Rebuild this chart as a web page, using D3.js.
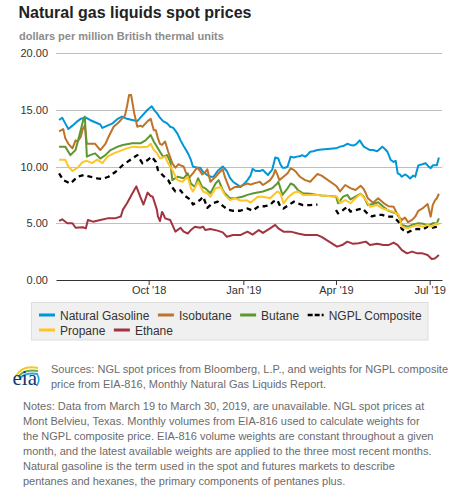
<!DOCTYPE html>
<html>
<head>
<meta charset="utf-8">
<script src="https://cdn.jsdelivr.net/npm/d3@7"></script>
<style>
  html, body { margin: 0; padding: 0; background: #fff; }
  svg { display: block; font-family: "Liberation Sans", Arial, sans-serif; }
</style>
</head>
<body>
<svg id="chart" width="469" height="494"></svg>
<script>
// ---------------- DATA ----------------
const titleText = "Natural gas liquids spot prices";
const unitsText = "dollars per million British thermal units";
const yTicks = [0, 5, 10, 15, 20];
const xTickDates = ["2018-10-01", "2019-01-01", "2019-04-01", "2019-07-01"];
const xTickLabels = ["Oct '18", "Jan '19", "Apr '19", "Jul '19"];
const seriesNames = ["Natural Gasoline", "Isobutane", "Butane", "NGPL Composite", "Propane", "Ethane"];

const naturalGasoline = [
 ["2018-07-06",14.1],["2018-07-09",14.3],["2018-07-12",13.8],["2018-07-15",13.3],["2018-07-19",13.6],
 ["2018-07-24",14.0],["2018-07-27",14.2],["2018-08-01",14.3],["2018-08-05",14.1],["2018-08-10",13.9],
 ["2018-08-15",13.7],["2018-08-17",13.4],["2018-08-22",13.6],["2018-08-27",13.8],["2018-09-01",14.2],
 ["2018-09-05",14.4],["2018-09-10",14.2],["2018-09-15",14.1],["2018-09-20",14.0],["2018-09-25",14.5],
 ["2018-09-30",15.0],["2018-10-04",15.3],["2018-10-07",14.9],["2018-10-09",14.7],["2018-10-12",14.3],
 ["2018-10-15",14.0],["2018-10-19",13.8],["2018-10-22",13.5],["2018-10-25",13.4],["2018-10-29",12.9],
 ["2018-11-01",12.3],["2018-11-04",11.8],["2018-11-08",11.2],["2018-11-11",10.6],["2018-11-13",10.0],
 ["2018-11-17",9.9],["2018-11-20",9.9],["2018-11-23",9.5],["2018-11-27",9.25],["2018-11-30",9.1],
 ["2018-12-03",9.1],["2018-12-07",9.6],["2018-12-12",10.0],["2018-12-14",9.8],["2018-12-16",9.6],
 ["2018-12-19",9.0],["2018-12-22",8.66],["2018-12-26",8.4],["2018-12-29",8.2],["2019-01-01",8.4],
 ["2019-01-05",8.8],["2019-01-08",9.2],["2019-01-10",9.8],["2019-01-13",9.6],["2019-01-17",9.6],
 ["2019-01-20",9.7],["2019-01-22",9.5],["2019-01-25",9.25],["2019-01-27",9.5],["2019-01-29",9.7],
 ["2019-02-01",10.8],["2019-02-04",10.7],["2019-02-06",10.2],["2019-02-08",9.9],["2019-02-11",9.9],
 ["2019-02-13",10.0],["2019-02-16",10.87],["2019-02-19",10.8],["2019-02-22",10.87],["2019-02-25",10.9],
 ["2019-02-27",11.0],["2019-03-02",10.87],["2019-03-04",11.0],["2019-03-07",11.3],["2019-03-10",11.35],
 ["2019-03-14",11.45],["2019-03-18",11.5],["2019-04-01",11.6],["2019-04-05",11.75],["2019-04-08",11.8],
 ["2019-04-12",12.0],["2019-04-15",11.9],["2019-04-18",11.85],["2019-04-21",12.0],["2019-04-24",12.3],
 ["2019-04-28",11.75],["2019-05-01",11.6],["2019-05-04",11.45],["2019-05-07",11.45],["2019-05-11",11.35],
 ["2019-05-16",11.75],["2019-05-19",11.5],["2019-05-21",11.3],["2019-05-24",10.6],["2019-05-27",10.4],
 ["2019-05-29",10.5],["2019-05-31",9.4],["2019-06-02",9.3],["2019-06-04",9.1],["2019-06-07",9.3],
 ["2019-06-09",9.2],["2019-06-12",8.95],["2019-06-15",9.2],["2019-06-17",9.1],["2019-06-20",10.1],
 ["2019-06-24",10.2],["2019-06-27",10.3],["2019-06-30",10.0],["2019-07-02",9.85],["2019-07-04",10.1],
 ["2019-07-06",10.1],["2019-07-08",10.1],["2019-07-10",10.8]
];

const isobutane = [
 ["2018-07-06",13.1],["2018-07-10",13.3],["2018-07-12",12.5],["2018-07-15",12.0],["2018-07-19",11.6],
 ["2018-07-22",12.3],["2018-07-24",12.2],["2018-07-27",12.6],["2018-07-29",13.3],["2018-07-31",13.6],
 ["2018-08-02",12.0],["2018-08-05",12.0],["2018-08-10",12.0],["2018-08-15",11.45],["2018-08-20",12.0],
 ["2018-08-23",12.6],["2018-08-28",13.5],["2018-09-02",13.9],["2018-09-05",14.2],["2018-09-08",14.5],
 ["2018-09-10",15.3],["2018-09-12",16.3],["2018-09-14",16.3],["2018-09-17",14.7],["2018-09-20",13.5],
 ["2018-09-23",13.6],["2018-09-25",13.5],["2018-09-28",13.8],["2018-09-30",14.0],["2018-10-03",14.2],
 ["2018-10-06",13.2],["2018-10-08",13.2],["2018-10-10",12.5],["2018-10-12",12.0],["2018-10-14",11.9],
 ["2018-10-17",12.2],["2018-10-20",11.3],["2018-10-22",10.8],["2018-10-24",10.28],["2018-10-27",9.9],
 ["2018-10-30",10.2],["2018-11-01",10.1],["2018-11-04",10.0],["2018-11-06",9.5],["2018-11-09",8.96],
 ["2018-11-11",9.2],["2018-11-13",9.4],["2018-11-17",9.9],["2018-11-20",9.6],["2018-11-22",9.3],
 ["2018-11-25",9.5],["2018-11-27",9.75],["2018-11-30",8.66],["2018-12-05",9.1],["2018-12-08",9.4],
 ["2018-12-12",9.75],["2018-12-14",9.1],["2018-12-17",8.4],["2018-12-19",7.93],["2018-12-22",8.1],
 ["2018-12-24",8.2],["2018-12-29",8.2],["2019-01-01",8.37],["2019-01-05",8.5],["2019-01-08",8.4],
 ["2019-01-11",8.5],["2019-01-15",8.6],["2019-01-17",8.66],["2019-01-20",8.37],["2019-01-24",8.6],
 ["2019-01-27",8.8],["2019-01-30",9.2],["2019-02-01",9.7],["2019-02-03",9.3],["2019-02-05",8.8],
 ["2019-02-09",9.1],["2019-02-13",9.4],["2019-02-16",9.84],["2019-02-19",9.7],["2019-02-21",9.54],
 ["2019-02-23",9.3],["2019-02-25",9.1],["2019-03-02",8.8],["2019-03-07",8.66],["2019-03-10",8.95],
 ["2019-03-14",9.34],["2019-03-18",9.2],["2019-04-01",8.3],["2019-04-02",8.2],["2019-04-05",7.8],
 ["2019-04-10",8.37],["2019-04-15",8.1],["2019-04-20",7.93],["2019-04-25",8.3],["2019-04-28",8.0],
 ["2019-04-30",7.64],["2019-05-02",7.2],["2019-05-04",7.05],["2019-05-07",6.8],["2019-05-12",7.2],
 ["2019-05-17",6.8],["2019-05-22",6.5],["2019-05-27",6.46],["2019-05-31",5.7],["2019-06-02",5.5],
 ["2019-06-04",5.3],["2019-06-07",5.5],["2019-06-10",5.1],["2019-06-14",5.3],["2019-06-17",5.58],
 ["2019-06-20",6.1],["2019-06-24",6.3],["2019-06-29",6.7],["2019-07-02",5.58],["2019-07-04",6.6],
 ["2019-07-06",7.0],["2019-07-08",7.2],["2019-07-10",7.6]
];

const butane = [
 ["2018-07-06",11.75],["2018-07-12",11.75],["2018-07-17",11.0],["2018-07-22",11.45],["2018-07-27",13.2],
 ["2018-07-30",14.3],["2018-07-31",14.4],["2018-08-02",10.87],["2018-08-05",11.0],["2018-08-10",11.16],
 ["2018-08-15",10.7],["2018-08-20",11.0],["2018-08-25",11.45],["2018-09-01",11.75],["2018-09-06",11.9],
 ["2018-09-15",12.04],["2018-09-23",12.04],["2018-09-28",12.3],["2018-10-03",12.77],["2018-10-06",12.2],
 ["2018-10-09",11.75],["2018-10-12",11.3],["2018-10-15",10.87],["2018-10-19",11.0],["2018-10-22",10.4],
 ["2018-10-24",8.8],["2018-10-29",9.1],["2018-11-04",8.96],["2018-11-08",9.4],["2018-11-11",8.5],
 ["2018-11-15",8.2],["2018-11-18",8.96],["2018-11-22",8.2],["2018-11-25",8.08],["2018-11-30",7.64],
 ["2018-12-05",8.5],["2018-12-08",8.8],["2018-12-12",7.93],["2018-12-14",7.64],["2018-12-19",7.2],
 ["2018-12-24",7.2],["2018-12-31",7.34],["2019-01-05",7.5],["2019-01-11",7.64],["2019-01-20",7.8],
 ["2019-01-29",8.08],["2019-02-03",8.5],["2019-02-04",8.66],["2019-02-08",7.5],["2019-02-13",8.08],
 ["2019-02-16",8.5],["2019-02-19",8.37],["2019-02-23",7.93],["2019-02-28",7.64],["2019-03-07",7.6],
 ["2019-03-14",7.5],["2019-03-18",7.45],["2019-04-01",7.35],["2019-04-03",6.76],["2019-04-08",7.34],
 ["2019-04-12",7.5],["2019-04-15",7.1],["2019-04-20",7.34],["2019-04-25",7.6],["2019-04-28",7.34],
 ["2019-05-02",6.6],["2019-05-07",6.7],["2019-05-12",6.85],["2019-05-17",6.46],["2019-05-22",6.1],
 ["2019-05-27",5.95],["2019-05-31",5.8],["2019-06-02",5.4],["2019-06-04",4.85],["2019-06-10",4.7],
 ["2019-06-15",4.9],["2019-06-20",5.0],["2019-06-25",4.95],["2019-06-29",4.8],["2019-07-02",4.9],
 ["2019-07-04",5.0],["2019-07-08",5.0],["2019-07-10",5.43]
];

const ngplComposite = [
 ["2018-07-06",9.4],["2018-07-10",8.8],["2018-07-17",8.5],["2018-07-24",9.1],["2018-07-30",9.25],
 ["2018-08-05",9.1],["2018-08-12",8.96],["2018-08-17",8.9],["2018-08-23",9.1],["2018-08-30",9.54],
 ["2018-09-06",10.13],["2018-09-13",10.57],["2018-09-20",11.0],["2018-09-25",10.28],["2018-09-30",10.57],
 ["2018-10-04",10.87],["2018-10-08",10.4],["2018-10-10",9.7],["2018-10-15",9.2],["2018-10-20",8.8],
 ["2018-10-24",8.15],["2018-10-27",7.8],["2018-11-01",7.9],["2018-11-04",7.5],["2018-11-11",7.05],
 ["2018-11-13",6.65],["2018-11-20",7.05],["2018-11-23",7.34],["2018-11-27",6.35],["2018-12-02",6.76],
 ["2018-12-07",6.9],["2018-12-13",6.46],["2018-12-17",6.2],["2018-12-22",6.1],["2018-12-29",6.1],
 ["2019-01-05",6.3],["2019-01-10",6.1],["2019-01-16",6.5],["2019-01-22",6.5],["2019-01-27",6.6],
 ["2019-01-30",6.9],["2019-02-03",7.05],["2019-02-06",6.46],["2019-02-09",6.3],["2019-02-14",6.6],
 ["2019-02-19",6.9],["2019-02-23",6.75],["2019-02-28",6.6],["2019-03-07",6.6],["2019-03-14",6.65],
 ["2019-03-20",null],
 ["2019-04-01",6.17],["2019-04-03",5.87],["2019-04-08",6.17],["2019-04-12",6.46],["2019-04-15",6.02],
 ["2019-04-22",6.2],["2019-04-27",6.3],["2019-05-01",5.9],["2019-05-06",5.6],["2019-05-11",5.73],
 ["2019-05-16",5.73],["2019-05-21",5.58],["2019-05-27",5.58],["2019-06-01",5.1],["2019-06-04",4.5],
 ["2019-06-09",4.15],["2019-06-14",4.4],["2019-06-19",4.5],["2019-06-24",4.45],["2019-06-29",4.7],
 ["2019-07-02",4.55],["2019-07-06",4.65],["2019-07-10",4.7]
];

const propane = [
 ["2018-07-06",10.6],["2018-07-12",10.6],["2018-07-15",10.0],["2018-07-19",9.6],["2018-07-24",9.9],
 ["2018-07-29",10.4],["2018-08-02",10.5],["2018-08-07",10.3],["2018-08-12",10.6],["2018-08-17",10.3],
 ["2018-08-22",10.87],["2018-08-28",11.16],["2018-09-04",11.4],["2018-09-10",11.6],["2018-09-16",11.75],
 ["2018-09-23",11.7],["2018-09-30",11.75],["2018-10-03",12.0],["2018-10-06",11.45],["2018-10-09",11.2],
 ["2018-10-12",10.7],["2018-10-17",10.87],["2018-10-20",10.28],["2018-10-24",9.7],["2018-10-29",8.8],
 ["2018-11-03",8.66],["2018-11-08",9.1],["2018-11-11",8.08],["2018-11-13",7.8],["2018-11-18",8.66],
 ["2018-11-23",7.8],["2018-11-27",7.64],["2018-11-30",7.34],["2018-12-05",8.08],["2018-12-10",8.2],
 ["2018-12-14",7.5],["2018-12-19",7.05],["2018-12-24",7.2],["2018-12-29",7.0],["2019-01-05",7.0],
 ["2019-01-08",6.8],["2019-01-15",7.34],["2019-01-20",7.34],["2019-01-27",7.2],["2019-02-03",7.8],
 ["2019-02-06",7.64],["2019-02-09",6.76],["2019-02-14",7.34],["2019-02-19",7.7],["2019-02-23",7.8],
 ["2019-02-28",7.5],["2019-03-07",7.5],["2019-03-14",7.5],["2019-03-18",7.45],["2019-04-02",7.34],
 ["2019-04-05",6.76],["2019-04-10",7.05],["2019-04-15",6.76],["2019-04-20",7.2],["2019-04-25",7.6],
 ["2019-04-30",7.05],["2019-05-04",6.46],["2019-05-11",6.6],["2019-05-16",6.3],["2019-05-21",6.17],
 ["2019-05-27",6.0],["2019-06-01",5.73],["2019-06-04",4.7],["2019-06-09",4.55],["2019-06-14",4.7],
 ["2019-06-19",4.85],["2019-06-24",4.7],["2019-06-29",4.85],["2019-07-03",4.7],["2019-07-08",5.0],
 ["2019-07-10",4.85]
];

const ethane = [
 ["2018-07-06",5.2],["2018-07-09",5.35],["2018-07-14",5.0],["2018-07-19",5.0],["2018-07-22",4.6],
 ["2018-07-29",4.65],["2018-08-01",4.55],["2018-08-03",5.28],["2018-08-08",5.14],["2018-08-15",5.28],
 ["2018-08-22",5.43],["2018-08-30",5.45],["2018-09-04",5.6],["2018-09-06",6.2],["2018-09-10",6.76],
 ["2018-09-15",7.6],["2018-09-19",8.25],["2018-09-23",7.3],["2018-09-26",6.65],["2018-09-30",7.7],
 ["2018-10-03",7.4],["2018-10-05",7.34],["2018-10-09",6.2],["2018-10-10",5.6],["2018-10-12",5.2],
 ["2018-10-14",6.0],["2018-10-15",5.87],["2018-10-17",5.43],["2018-10-22",5.28],["2018-10-27",4.26],
 ["2018-11-01",4.6],["2018-11-04",4.26],["2018-11-08",4.1],["2018-11-11",4.4],["2018-11-15",4.7],
 ["2018-11-20",4.6],["2018-11-23",4.7],["2018-11-25",4.4],["2018-11-30",4.5],["2018-12-07",4.35],
 ["2018-12-12",4.2],["2018-12-16",3.81],["2018-12-22",3.96],["2018-12-29",3.96],["2019-01-05",4.26],
 ["2019-01-10",4.0],["2019-01-16",4.4],["2019-01-20",4.15],["2019-01-27",4.55],["2019-02-01",4.85],
 ["2019-02-04",4.55],["2019-02-09",4.26],["2019-02-16",4.26],["2019-02-23",4.1],["2019-03-02",3.96],
 ["2019-03-09",3.96],["2019-03-14",3.96],["2019-03-18",3.8],["2019-04-02",2.94],["2019-04-07",3.08],
 ["2019-04-12",3.38],["2019-04-17",3.2],["2019-04-23",3.23],["2019-04-30",3.38],["2019-05-04",3.08],
 ["2019-05-11",3.2],["2019-05-17",3.08],["2019-05-22",3.08],["2019-05-27",3.3],["2019-05-31",3.08],
 ["2019-06-04",2.64],["2019-06-09",2.35],["2019-06-14",2.5],["2019-06-19",2.35],["2019-06-24",2.35],
 ["2019-06-29",2.2],["2019-07-03",1.85],["2019-07-06",1.9],["2019-07-10",2.2]
];

const sourceLines = [
  "Sources: NGL spot prices from Bloomberg, L.P., and weights for NGPL composite",
  "price from EIA-816, Monthly Natural Gas Liquids Report."
];
const noteLines = [
  "Notes: Data from March 19 to March 30, 2019, are unavailable. NGL spot prices at",
  "Mont Belvieu, Texas. Monthly volumes from EIA-816 used to calculate weights for",
  "the NGPL composite price. EIA-816 volume weights are constant throughout a given",
  "month, and the latest available weights are applied to the three most recent months.",
  "Natural gasoline is the term used in the spot and futures markets to describe",
  "pentanes and hexanes, the primary components of pentanes plus."
];

// ---------------- CHART ----------------
const parse = d3.timeParse("%Y-%m-%d");
const svg = d3.select("#chart");

const series = [
  { name: seriesNames[0], data: naturalGasoline, color: "#0096d7", dash: null },
  { name: seriesNames[1], data: isobutane,       color: "#bd732a", dash: null },
  { name: seriesNames[2], data: butane,          color: "#5d9732", dash: null },
  { name: seriesNames[3], data: ngplComposite,   color: "#000000", dash: "5,4" },
  { name: seriesNames[4], data: propane,         color: "#ffc425", dash: null },
  { name: seriesNames[5], data: ethane,          color: "#a33340", dash: null }
];

const x = d3.scaleTime()
  .domain([parse("2018-07-03"), parse("2019-07-13")])
  .range([56, 442]);
const y = d3.scaleLinear().domain([0, 20]).range([280, 53]);

// title
svg.append("text").attr("x", 18.5).attr("y", 17.5)
  .attr("font-size", 16).attr("font-weight", "bold").attr("fill", "#222")
  .text(titleText);
svg.append("text").attr("x", 19).attr("y", 40)
  .attr("font-size", 11).attr("font-weight", "bold").attr("fill", "#8c8c8c")
  .text(unitsText);

// gridlines
svg.append("g").selectAll("line").data(yTicks.filter(t => t > 0)).join("line")
  .attr("x1", 56).attr("x2", 442)
  .attr("y1", d => Math.round(y(d)) + 0.5).attr("y2", d => Math.round(y(d)) + 0.5)
  .attr("stroke", "#c0c0c0").attr("stroke-width", 1);

// y labels
svg.append("g").selectAll("text").data(yTicks).join("text")
  .attr("x", 48).attr("y", d => y(d) + 4)
  .attr("text-anchor", "end").attr("font-size", 11).attr("fill", "#333")
  .text(d => d3.format(".2f")(d));

// x axis
const xAxis = d3.axisBottom(x)
  .tickValues(xTickDates.map(parse))
  .tickFormat((d, i) => xTickLabels[i])
  .tickSize(5).tickSizeOuter(0);
const gx = svg.append("g").attr("transform", "translate(0,280)").call(xAxis);
gx.select(".domain").attr("stroke", "#333").attr("stroke-width", 1.2);
gx.selectAll(".tick line").attr("stroke", "#333");
gx.selectAll(".tick text").attr("font-size", 11).attr("fill", "#333")
  .attr("font-family", "Liberation Sans, Arial, sans-serif").attr("dy", "0.85em").attr("y", 5);

// lines
const line = d3.line()
  .defined(d => d[1] !== null)
  .x(d => x(parse(d[0])))
  .y(d => y(d[1]));

const gLines = svg.append("g");
series.forEach(s => {
  gLines.append("path")
    .datum(s.data)
    .attr("fill", "none")
    .attr("stroke", s.color)
    .attr("stroke-width", s.dash ? 2.3 : 2)
    .attr("stroke-dasharray", s.dash)
    .attr("stroke-linejoin", "round")
    .attr("d", line);
});

// legend
const legend = svg.append("g");
legend.append("rect").attr("x", 31.5).attr("y", 302.5).attr("width", 396.5).attr("height", 37.5)
  .attr("fill", "#f0f0f0").attr("stroke", "#dddddd");
let lx = 39, ly = 315;
const legendOrder = [0, 1, 2, 3, 4, 5];
legendOrder.forEach(i => {
  const s = series[i];
  const g = legend.append("g");
  const t = g.append("text").attr("font-size", 12).attr("fill", "#333").text(s.name);
  const w = t.node().getComputedTextLength();
  if (lx + 21 + w > 426) { lx = 39; ly += 15; }
  g.append("line").attr("x1", lx).attr("x2", lx + 16).attr("y1", ly).attr("y2", ly)
    .attr("stroke", s.color).attr("stroke-width", s.dash ? 2.5 : 3)
    .attr("stroke-dasharray", s.dash ? "5,2" : null);
  t.attr("x", lx + 21).attr("y", ly + 4.5);
  lx += 21 + w + 8.5;
});

// eia logo
const logo = svg.append("g");
logo.append("path").attr("d", "M16,376 Q22,365 38,368").attr("fill", "none").attr("stroke", "#f7c42b").attr("stroke-width", 2);
logo.append("path").attr("d", "M18,377 Q24,368.5 38,371").attr("fill", "none").attr("stroke", "#6cab3e").attr("stroke-width", 2);
logo.append("path").attr("d", "M20,378 Q26,372 38,374").attr("fill", "none").attr("stroke", "#2aa6dc").attr("stroke-width", 1.8);
logo.append("path").attr("d", "M37,374 Q41,380 36.5,386").attr("fill", "none").attr("stroke", "#2aa6dc").attr("stroke-width", 1.6);
logo.append("text").attr("x", 12.5).attr("y", 385).attr("font-family", "Liberation Serif, DejaVu Serif, serif")
  .attr("font-size", 21).attr("fill", "#0c3a6b").text("eia");

// sources & notes
svg.append("g").selectAll("text").data(sourceLines).join("text")
  .attr("x", 51).attr("y", (d, i) => 373 + i * 15)
  .attr("font-size", 11).attr("fill", "#6b6b6b").text(d => d);
svg.append("g").selectAll("text").data(noteLines).join("text")
  .attr("x", 23).attr("y", (d, i) => 409.5 + i * 15.1)
  .attr("font-size", 11).attr("fill", "#6b6b6b").text(d => d);
</script>
</body>
</html>
